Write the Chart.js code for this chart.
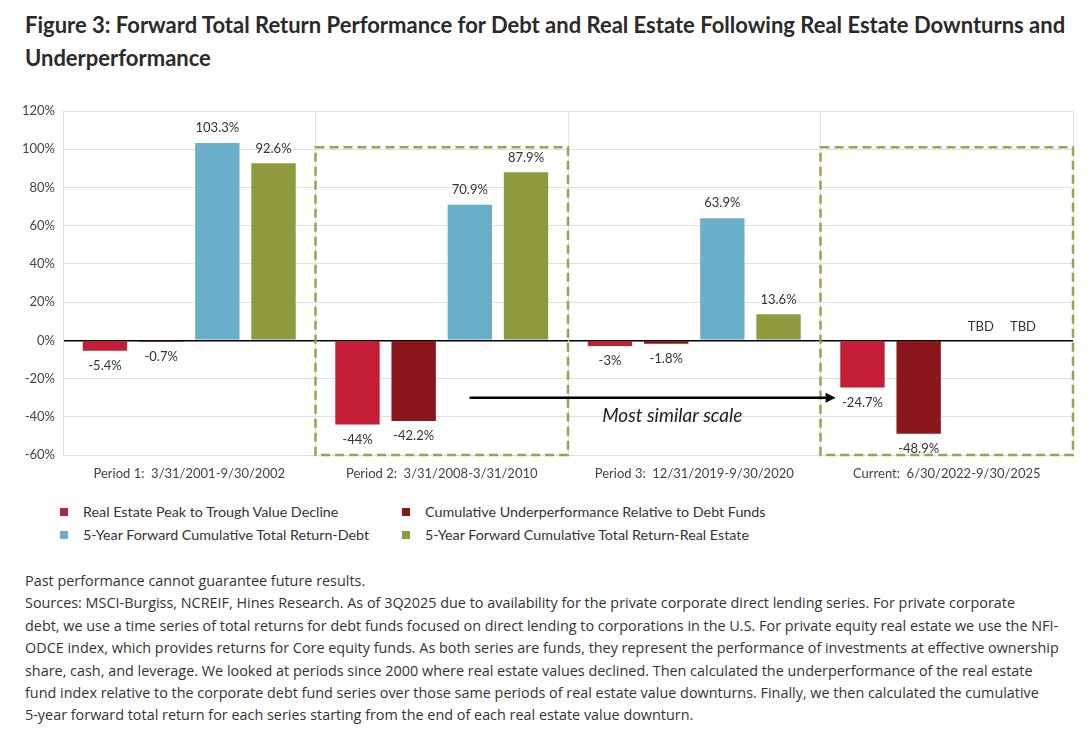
<!DOCTYPE html>
<html>
<head>
<meta charset="utf-8">
<script src="https://cdn.jsdelivr.net/npm/chart.js@4.4.1/dist/chart.umd.min.js"></script>
<style>
  body { margin: 0; background: #fff; font-family: Lato, sans-serif; color: #333; }
  #title { position: absolute; left: 25px; top: 8px; width: 1066px; font-weight: 700; font-size: 22px; line-height: 33px; color: #2a2a2a; white-space: nowrap; }
  #wrap { position: absolute; left: 0; top: 95px; width: 1091px; height: 392px; }
  #legend { position: absolute; left: 60px; top: 503px; width: 800px; font-size: 14.3px; color: #333; }
  .item { position: absolute; white-space: nowrap; }
  .item span.box { display: inline-block; width: 8px; height: 8px; margin-right: 15px; vertical-align: 1px; }
  #notes { position: absolute; left: 25px; top: 570px; font-family: "Open Sans", sans-serif; font-size: 14.4px; line-height: 22.4px; color: #333; white-space: nowrap; }
</style>
</head>
<body>
<div id="title">Figure 3: Forward Total Return Performance for Debt and Real Estate Following Real Estate Downturns and<br>Underperformance</div>
<div id="wrap"><canvas id="grafico"></canvas></div>
<div id="legend"></div>
<div id="notes">
Past performance cannot guarantee future results.<br>
Sources: MSCI-Burgiss, NCREIF, Hines Research. As of 3Q2025 due to availability for the private corporate direct lending series. For private corporate<br>
debt, we use a time series of total returns for debt funds focused on direct lending to corporations in the U.S. For private equity real estate we use the NFI-<br>
ODCE index, which provides returns for Core equity funds. As both series are funds, they represent the performance of investments at effective ownership<br>
share, cash, and leverage. We looked at periods since 2000 where real estate values declined. Then calculated the underperformance of the real estate<br>
fund index relative to the corporate debt fund series over those same periods of real estate value downturns. Finally, we then calculated the cumulative<br>
5-year forward total return for each series starting from the end of each real estate value downturn.
</div>
<script>
/* dados do grafico */
const categories = [
    'Period 1:  3/31/2001-9/30/2002',
    'Period 2:  3/31/2008-3/31/2010',
    'Period 3:  12/31/2019-9/30/2020',
    'Current:  6/30/2022-9/30/2025'
];
const declineValues = [-5.4, -44, -3, -24.7];
const underperfValues = [-0.7, -42.2, -1.8, -48.9];
const debtValues = [103.3, 70.9, 63.9, null];
const realEstateValues = [92.6, 87.9, 13.6, null];
const seriesNames = [
    'Real Estate Peak to Trough Value Decline',
    'Cumulative Underperformance Relative to Debt Funds',
    '5-Year Forward Cumulative Total Return-Debt',
    '5-Year Forward Cumulative Total Return-Real Estate'
];
const seriesColors = ['#C31E35', '#8B161C', '#6AAFC9', '#8F9A3E'];
const yMin = -60, yMax = 120, yStep = 20;
const highlighted = [1, 3];      // periods with the dashed box
const boxTop = 101;              // dashed boxes top, in %
const arrowY = -30;
const arrowText = 'Most similar scale';

const allValues = [declineValues, underperfValues, debtValues, realEstateValues];

// legend (html)
const legend = document.getElementById('legend');
seriesNames.forEach(function (name, i) {
    const d = document.createElement('div');
    d.className = 'item';
    d.style.left = (i % 2 ? 342 : 0) + 'px';
    d.style.top = (i < 2 ? 0 : 23) + 'px';
    d.innerHTML = '<span class="box" style="background:' + seriesColors[i] + '"></span>' + name;
    legend.appendChild(d);
});

const extras = {
    id: 'extras',
    afterDatasetsDraw(chart) {
        const ctx = chart.ctx;
        const x = chart.scales.x, y = chart.scales.y;
        const area = chart.chartArea;
        ctx.save();
        ctx.font = '13px Lato';
        ctx.fillStyle = '#333';
        ctx.textAlign = 'center';
        ctx.textBaseline = 'middle';
        chart.data.datasets.forEach(function (ds, di) {
            const meta = chart.getDatasetMeta(di);
            ds.data.forEach(function (v, i) {
                const bar = meta.data[i];
                if (v === null) {
                    // TBD sits a bit closer to the middle than the bar slot
                    const nudge = di === 2 ? 6 : -8;
                    ctx.fillText('TBD', bar.x + nudge, y.getPixelForValue(0) - 14);
                } else if (v >= 0) {
                    ctx.fillText(v + '%', bar.x, bar.y - 15);
                } else {
                    ctx.fillText(v + '%', bar.x, bar.y + 15);
                }
            });
        });

        // dashed boxes
        const cw = (area.right - area.left) / categories.length;
        ctx.strokeStyle = '#9AA24F';
        ctx.lineWidth = 2.5;
        ctx.setLineDash([9, 5]);
        highlighted.forEach(function (i) {
            const l = x.getPixelForValue(i) - cw / 2;
            const t = y.getPixelForValue(boxTop);
            const b = y.getPixelForValue(yMin);
            ctx.strokeRect(l, t, cw, b - t);
        });
        ctx.setLineDash([]);

        // arrow
        const ay = y.getPixelForValue(arrowY);
        const ax1 = x.getPixelForValue(1) + cw * 0.11;
        const ax2 = x.getPixelForValue(3) - cw * 0.44;
        ctx.strokeStyle = '#000';
        ctx.lineWidth = 2.5;
        ctx.beginPath();
        ctx.moveTo(ax1, ay);
        ctx.lineTo(ax2 - 8, ay);
        ctx.stroke();
        ctx.fillStyle = '#000';
        ctx.beginPath();
        ctx.moveTo(ax2, ay);
        ctx.lineTo(ax2 - 10, ay - 5);
        ctx.lineTo(ax2 - 10, ay + 5);
        ctx.closePath();
        ctx.fill();

        ctx.font = 'italic 19px Lato';
        ctx.fillStyle = '#222';
        ctx.fillText(arrowText, x.getPixelForValue(2) - cw * 0.087, y.getPixelForValue(-39.5));
        ctx.restore();
    }
};

const grafico = document.getElementById('grafico');

const data = {
    labels: categories,
    datasets: seriesNames.map(function (name, i) {
        return {
            label: name,
            data: allValues[i],
            backgroundColor: seriesColors[i],
            borderWidth: 0,
            categoryPercentage: 0.89,
            barPercentage: 0.79
        };
    })
};

const config = {
    type: 'bar',
    data: data,
    options: {
        responsive: true,
        maintainAspectRatio: false,
        animation: false,
        layout: { padding: { top: 16, right: 18, left: 0, bottom: 0 } },
        scales: {
            y: {
                min: yMin,
                max: yMax,
                afterFit: function (s) { s.width = 63; },
                border: { color: '#dcdcdc' },
                grid: {
                    drawTicks: false,
                    color: function (c) { return c.tick && c.tick.value === 0 ? '#000' : '#e0e0e0'; },
                    lineWidth: function (c) { return c.tick && c.tick.value === 0 ? 1.5 : 1; }
                },
                ticks: {
                    stepSize: yStep,
                    padding: 8,
                    color: '#444',
                    font: { size: 13, family: 'Lato' },
                    callback: function (v) { return v + '%'; }
                }
            },
            x: {
                afterFit: function (s) { s.height = 32; },
                border: { color: '#dcdcdc' },
                grid: { offset: true, drawTicks: false, color: '#e0e0e0' },
                ticks: {
                    padding: 11,
                    color: '#444',
                    maxRotation: 0,
                    font: { size: 13, family: 'Lato' }
                }
            }
        },
        plugins: {
            legend: { display: false },
            tooltip: { enabled: false }
        }
    },
    plugins: [extras]
};

const grafico_1 = new Chart(grafico, config);
</script>
</body>
</html>
